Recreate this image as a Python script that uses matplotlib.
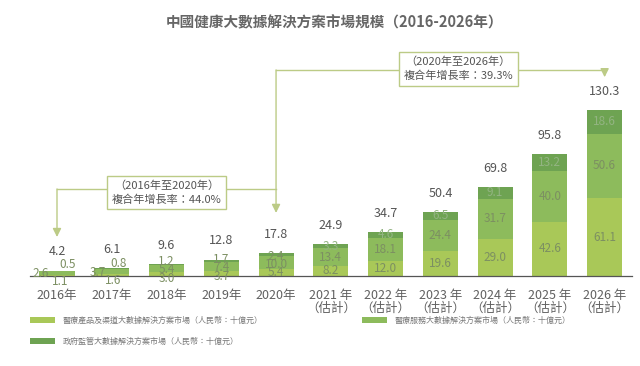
import matplotlib
matplotlib.use("Agg")
import matplotlib.pyplot as plt
import numpy as np

plt.rcParams['font.family'] = ['Noto Sans CJK TC', 'DejaVu Sans']

#------DANE------
years = ["2016年", "2017年", "2018年", "2019年", "2020年",
         "2021 年\n（估計）", "2022 年\n（估計）", "2023 年\n（估計）",
         "2024 年\n（估計）", "2025 年\n（估計）", "2026 年\n（估計）"]
product = [1.1, 1.6, 3.0, 3.7, 5.4, 8.2, 12.0, 19.6, 29.0, 42.6, 61.1]
service = [2.6, 3.7, 5.4, 7.4, 10.0, 13.4, 18.1, 24.4, 31.7, 40.0, 50.6]
gov = [0.5, 0.8, 1.2, 1.7, 2.4, 3.3, 4.6, 6.5, 9.1, 13.2, 18.6]
totals = [4.2, 6.1, 9.6, 12.8, 17.8, 24.9, 34.7, 50.4, 69.8, 95.8, 130.3]

labels = ["醫療產品及渠道大數據解決方案市場（人民幣：十億元）",
          "醫療服務大數據解決方案市場（人民幣：十億元）",
          "政府監管大數據解決方案市場（人民幣：十億元）"]
cagr_texts = ["（2016年至2020年）\n複合年增長率：44.0%",
              "（2020年至2026年）\n複合年增長率：39.3%"]

c_prod, c_serv, c_gov = '#a9c858', '#8dbb5c', '#6ea352'
line_c = '#bccb86'
txt_c = '#555555'

fig = plt.figure(figsize=(6.4, 3.66), dpi=100)
ax = fig.add_axes([30/640, 90/366, 602/640, 236/366])

x = np.arange(len(years))
w = 0.64
p = np.array(product)
s = np.array(service)
g = np.array(gov)
b1 = ax.bar(x, p, w, color=c_prod, label=labels[0])
b2 = ax.bar(x, s, w, bottom=p, color=c_serv, label=labels[1])
b3 = ax.bar(x, g, w, bottom=p + s, color=c_gov, label=labels[2])

ax.set_xlim(-0.493, 10.5)
ax.set_ylim(0, 185.2)

# etykiety wewnątrz słupków
lab_c = '#7c8f62'
for i in range(len(x)):
    if totals[i] < 20:
        yc = totals[i] / 2
        dx = {0: (-12, 8, 2), 1: (-10, 5, 1)}.get(i, (0, 0, 0))
        ax.annotate(f"{s[i]:.1f}", (x[i], yc), xytext=(dx[0], 0), textcoords='offset points',
                    ha='center', va='center', fontsize=8.5, color=lab_c)
        ax.annotate(f"{g[i]:.1f}", (x[i], yc), xytext=(dx[1], 6), textcoords='offset points',
                    ha='center', va='center', fontsize=8.5, color=lab_c)
        ax.annotate(f"{p[i]:.1f}", (x[i], yc), xytext=(dx[2], -6), textcoords='offset points',
                    ha='center', va='center', fontsize=8.5, color=lab_c)
    else:
        ax.text(x[i], p[i] / 2, f"{p[i]:.1f}", ha='center', va='center', fontsize=8.5, color=lab_c)
        ax.text(x[i], p[i] + s[i] / 2, f"{s[i]:.1f}", ha='center', va='center', fontsize=8.5, color=lab_c)
        ax.text(x[i], p[i] + s[i] + g[i] / 2, f"{g[i]:.1f}", ha='center', va='center',
                fontsize=8.5, color='#93b482')
    ax.annotate(f"{totals[i]:.1f}", (x[i], totals[i]), xytext=(0, 13.5), textcoords='offset points',
                ha='center', va='center', fontsize=9, color=txt_c)

# osie
for sp in ['top', 'right', 'left']:
    ax.spines[sp].set_visible(False)
ax.spines['bottom'].set_color('#555555')
ax.spines['bottom'].set_linewidth(0.9)
ax.set_yticks([])
ax.set_xticks(x)
ax.set_xticklabels(years, fontsize=9, color='#606060', linespacing=1.0)
ax.tick_params(axis='x', length=0, pad=9)

# strzałki CAGR
arr = dict(arrowstyle='-|>,head_length=0.5,head_width=0.25', color=line_c, lw=1.0,
           shrinkA=0, shrinkB=0)
y1, y2 = 68.3, 161.7
ax.plot([0, 4], [y1, y1], color=line_c, lw=1.0, clip_on=False)
ax.annotate('', xy=(0, 30.6), xytext=(0, y1), arrowprops=arr, annotation_clip=False)
ax.plot([4, 10], [y2, y2], color=line_c, lw=1.0, clip_on=False)
ax.annotate('', xy=(4, 49.5), xytext=(4, y2), arrowprops=arr, annotation_clip=False)
ax.annotate('', xy=(10, 156), xytext=(10, y2), arrowprops=arr, annotation_clip=False)

box = dict(boxstyle='square,pad=0.4', fc='white', ec=line_c, lw=1.0)
ax.text(2.0, 65.5, cagr_texts[0], ha='center', va='center', fontsize=8, color=txt_c,
        bbox=box, linespacing=1.45, clip_on=False)
ax.text(7.33, 162.5, cagr_texts[1], ha='center', va='center', fontsize=8, color=txt_c,
        bbox=box, linespacing=1.45, clip_on=False)

fig.text(0.523, 1 - 22/366, "中國健康大數據解決方案市場規模（2016-2026年）",
         ha='center', va='center', fontsize=10.5, fontweight='bold', color='#666666')

leg = fig.legend([b1, b3, b2], [labels[0], labels[2], labels[1]], ncol=2,
                 loc='upper left', bbox_to_anchor=(30/640, 1 - 316/366),
                 frameon=False, fontsize=5.8, handlelength=3.1, handleheight=0.75,
                 handletextpad=0.9, columnspacing=12.4, labelspacing=1.5,
                 borderpad=0, borderaxespad=0)
for t in leg.get_texts():
    t.set_color('#777777')

fig.savefig("out.png", dpi=100)
